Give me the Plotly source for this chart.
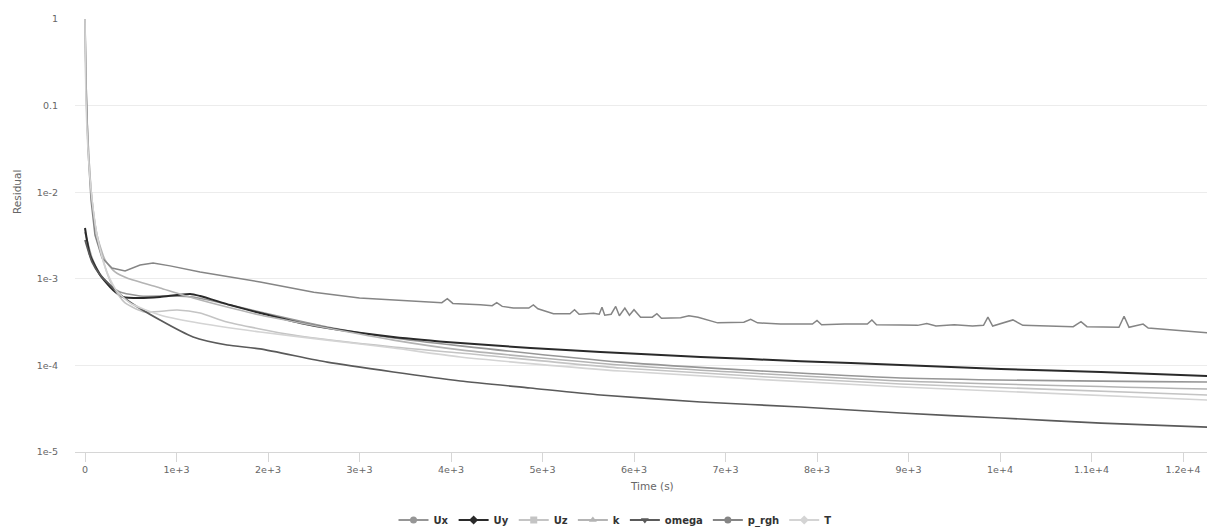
import plotly.graph_objects as go

# ---------------- data (time in s, residual) ----------------
series_names = ["Ux", "Uy", "Uz", "k", "omega", "p_rgh", "T"]

ux_t = [0, 77, 164, 274, 383, 602, 930, 1182, 1586, 1914, 2647, 3370, 4102, 5853, 8916, 12275]
ux_v = [3.47e-3, 1.74e-3, 1.14e-3, 8.48e-4, 7.05e-4, 6.33e-4, 6.33e-4, 6.17e-4, 4.98e-4,
        4.14e-4, 2.78e-4, 2.07e-4, 1.68e-4, 1.09e-4, 7.15e-5, 6.43e-5]

uy_t = [0, 55, 164, 306, 416, 602, 820, 1149, 1258, 1586, 1914, 2352, 2647, 3370, 4102,
        4868, 5634, 6728, 7822, 8916, 10010, 11104, 12275]
uy_v = [3.86e-3, 1.88e-3, 1.11e-3, 7.43e-4, 6.17e-4, 6.0e-4, 6.17e-4, 6.68e-4, 6.33e-4,
        4.98e-4, 4.02e-4, 3.09e-4, 2.70e-4, 2.13e-4, 1.81e-4, 1.59e-4, 1.43e-4, 1.25e-4,
        1.12e-4, 1.01e-4, 9.1e-5, 8.4e-5, 7.55e-5]

uz_t = [0, 11, 33, 66, 120, 197, 295, 438, 656, 1006, 1258, 1553, 2276, 3370, 4102, 5853, 8916, 12275]
uz_v = [1.0, 0.151, 0.0401, 0.0106, 3.66e-3, 1.65e-3, 8.48e-4, 5.26e-4, 4.14e-4, 4.36e-4,
        4.03e-4, 3.17e-4, 2.24e-4, 1.63e-4, 1.39e-4, 9.33e-5, 6.10e-5, 4.55e-5]

k_t = [0, 11, 22, 44, 77, 131, 219, 328, 459, 820, 1182, 1553, 1914, 2647, 3370, 4102, 5853, 8916, 12275]
k_v = [1.0, 0.198, 0.0682, 0.0235, 8.13e-3, 3.21e-3, 1.65e-3, 1.20e-3, 1.02e-3, 7.83e-4,
       6.00e-4, 4.72e-4, 3.82e-4, 2.70e-4, 1.96e-4, 1.51e-4, 1.01e-4, 6.61e-5, 5.34e-5]

omega_t = [0, 77, 164, 274, 459, 820, 1182, 1553, 1914, 2647, 3370, 4102, 4868, 5634,
           6728, 7822, 8916, 10010, 11104, 12275]
omega_v = [2.81e-3, 1.56e-3, 1.11e-3, 8.48e-4, 5.69e-4, 3.34e-4, 2.13e-4, 1.72e-4, 1.55e-4,
           1.09e-4, 8.39e-5, 6.61e-5, 5.48e-5, 4.55e-5, 3.78e-5, 3.31e-5, 2.82e-5, 2.47e-5,
           2.16e-5, 1.94e-5]

p_rgh_t = [0, 11, 33, 66, 109, 186, 295, 438, 602, 744, 930, 1258, 1914, 2500, 3000, 3370,
           3700, 3900, 3960, 4020, 4321, 4450, 4500, 4560, 4682, 4850, 4900, 4950, 5120,
           5300, 5350, 5400, 5558, 5620, 5650, 5680, 5750, 5800, 5840, 5900, 5950, 6000,
           6072, 6200, 6250, 6300, 6509, 6600, 6700, 6914, 7200, 7275, 7350, 7600, 7822,
           7950, 8000, 8050, 8300, 8550, 8600, 8650, 8916, 9100, 9200, 9300, 9500, 9700,
           9820, 9868, 9920, 10141, 10250, 10500, 10800, 10885, 10950, 11300, 11356, 11410,
           11564, 11620, 12000, 12275]
p_rgh_v = [1.0, 0.2, 0.031, 8.1e-3, 3.2e-3, 1.74e-3, 1.33e-3, 1.23e-3, 1.44e-3, 1.52e-3,
           1.41e-3, 1.20e-3, 9.2e-4, 7.0e-4, 6.0e-4, 5.7e-4, 5.4e-4, 5.3e-4, 5.9e-4, 5.2e-4,
           5.0e-4, 4.9e-4, 5.3e-4, 4.8e-4, 4.6e-4, 4.6e-4, 5.0e-4, 4.5e-4, 3.95e-4, 3.95e-4,
           4.4e-4, 3.9e-4, 4.0e-4, 3.9e-4, 4.7e-4, 3.8e-4, 3.9e-4, 4.8e-4, 3.75e-4, 4.6e-4,
           3.8e-4, 4.4e-4, 3.6e-4, 3.6e-4, 3.95e-4, 3.5e-4, 3.55e-4, 3.75e-4, 3.6e-4, 3.1e-4,
           3.15e-4, 3.4e-4, 3.1e-4, 3.0e-4, 3.0e-4, 3.0e-4, 3.3e-4, 2.95e-4, 3.0e-4, 3.0e-4,
           3.35e-4, 2.95e-4, 2.93e-4, 2.9e-4, 3.05e-4, 2.85e-4, 2.95e-4, 2.85e-4, 2.9e-4,
           3.6e-4, 2.85e-4, 3.35e-4, 2.9e-4, 2.85e-4, 2.8e-4, 3.2e-4, 2.8e-4, 2.75e-4, 3.7e-4,
           2.75e-4, 3.0e-4, 2.7e-4, 2.5e-4, 2.37e-4]

T_t = [0, 11, 33, 77, 142, 230, 339, 492, 820, 1182, 1914, 2647, 3370, 4102, 5853, 8916, 12275]
T_v = [1.0, 0.116, 0.0307, 8.13e-3, 2.81e-3, 1.26e-3, 7.43e-4, 5.26e-4, 3.82e-4, 3.17e-4,
       2.43e-4, 1.96e-4, 1.59e-4, 1.25e-4, 8.61e-5, 5.63e-5, 3.98e-5]

x_tick_vals = [0, 1000, 2000, 3000, 4000, 5000, 6000, 7000, 8000, 9000, 10000, 11000, 12000]
x_tick_text = ["0", "1e+3", "2e+3", "3e+3", "4e+3", "5e+3", "6e+3", "7e+3", "8e+3",
               "9e+3", "1e+4", "1.1e+4", "1.2e+4"]
y_tick_vals = [1e-5, 1e-4, 1e-3, 1e-2, 0.1, 1]
y_tick_text = ["1e-5", "1e-4", "1e-3", "1e-2", "0.1", "1"]

# ---------------- styling ----------------
series_data = [(ux_t, ux_v), (uy_t, uy_v), (uz_t, uz_v), (k_t, k_v),
               (omega_t, omega_v), (p_rgh_t, p_rgh_v), (T_t, T_v)]
colors = ["#969696", "#2a2a2a", "#c4c4c4", "#b4b4b4", "#5a5a5a", "#858585", "#d4d4d4"]
widths = [1.6, 2.0, 1.6, 1.6, 1.7, 1.5, 1.6]
symbols = ["circle", "diamond", "square", "triangle-up", "triangle-down", "circle", "diamond"]
shapes_ = ["spline", "spline", "spline", "spline", "spline", "linear", "spline"]

FONT = "DejaVu Sans"
W, H = 1207, 527
L, R, T_, B = 75, 0, 19, 75
plot_w = W - L - R
plot_h = H - T_ - B
px_per_unit = 91.5 / 1000.0
x_min = -10 / px_per_unit  # t=0 sits ~10 px right of the plot edge
x_max = x_min + plot_w / px_per_unit

fig = go.Figure()
for name, (t, v), c, w, sh in zip(series_names, series_data, colors, widths, shapes_):
    line = dict(color=c, width=w, shape=sh)
    if sh == "spline":
        line["smoothing"] = 0.6
    fig.add_trace(go.Scatter(x=t, y=v, mode="lines", name=name, line=line,
                             showlegend=False, hoverinfo="x+y+name"))

for name, c, sym in zip(series_names, colors, symbols):
    fig.add_trace(go.Scatter(x=[None], y=[None], mode="lines+markers", name=name,
                             line=dict(color=c, width=2),
                             marker=dict(symbol=sym, size=7, color=c),
                             showlegend=True))

def px_to_paper_x(px):
    return (px - L) / plot_w

def px_to_paper_y(py):
    return (H - B - py) / plot_h

fig.update_layout(
    width=W, height=H,
    margin=dict(l=L, r=R, t=T_, b=B, pad=0, autoexpand=False),
    paper_bgcolor="white", plot_bgcolor="white",
    font=dict(family=FONT, size=10, color="#666666"),
    showlegend=True,
    legend=dict(orientation="h", x=px_to_paper_x(615), xanchor="center",
                y=px_to_paper_y(520), yanchor="middle",
                font=dict(family=FONT, size=10, color="#333333", weight="bold"),
                itemwidth=30, tracegroupgap=0, bgcolor="rgba(0,0,0,0)"),
    xaxis=dict(range=[x_min, x_max], tickvals=x_tick_vals, ticktext=x_tick_text,
               showgrid=False, zeroline=False, showline=True, linecolor="#d6d6d6",
               linewidth=1, ticks="outside", ticklen=9, tickcolor="#d6d6d6",
               automargin=False,
               tickfont=dict(family=FONT, size=9.5, color="#666666")),
    yaxis=dict(type="log", range=[-5, 0], tickvals=y_tick_vals, ticktext=y_tick_text,
               showgrid=True, gridcolor="#ececec", gridwidth=1, zeroline=False,
               showline=False, ticks="", ticklabelstandoff=16, automargin=False,
               tickfont=dict(family=FONT, size=9.5, color="#666666")),
    annotations=[
        dict(text="Residual", xref="paper", yref="paper", x=px_to_paper_x(17),
             y=px_to_paper_y(192), textangle=-90, showarrow=False,
             xanchor="center", yanchor="middle",
             font=dict(family=FONT, size=10.5, color="#666666")),
        dict(text="Time (s)", xref="paper", yref="paper", x=px_to_paper_x(652),
             y=px_to_paper_y(486), showarrow=False, xanchor="center", yanchor="middle",
             font=dict(family=FONT, size=10.5, color="#666666")),
    ],
)

fig.write_html("out.html", include_plotlyjs=True,
               config={"displayModeBar": False},
               post_script="document.body.style.margin='0';document.body.style.overflow='hidden';")
